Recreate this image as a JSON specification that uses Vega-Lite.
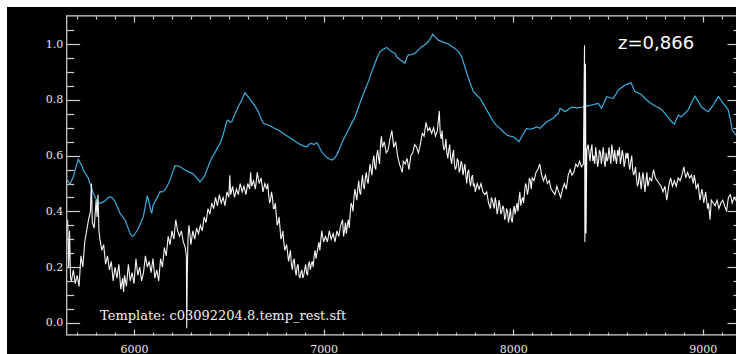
{
  "$schema": "https://vega.github.io/schema/vega-lite/v6.json",
  "width": 729,
  "height": 347,
  "autosize": {"type": "none"},
  "padding": {"left": 7, "top": 7, "right": 0, "bottom": 0},
  "background": "white",
  "config": {
    "view": {"fill": "black", "stroke": null},
    "axis": {"grid": false, "domain": false, "tickColor": "#cfcfcf", "tickWidth": 1.2, "labelColor": "#e6e6e6", "labelFont": "DejaVu Serif", "labelFontSize": 11, "labelOverlap": false, "labelFlush": false, "labelBound": false}
  },
  "datasets": {
    "template": [
      {"x":5648,"y":0.513},{"x":5655,"y":0.505},{"x":5662,"y":0.498},{"x":5670,"y":0.510},{"x":5680,"y":0.524},{"x":5692,"y":0.555},{"x":5706,"y":0.587},{"x":5715,"y":0.575},{"x":5724,"y":0.566},{"x":5733,"y":0.548},{"x":5742,"y":0.537},{"x":5750,"y":0.530},{"x":5759,"y":0.519},{"x":5768,"y":0.500},{"x":5777,"y":0.483},{"x":5785,"y":0.465},{"x":5794,"y":0.452},{"x":5803,"y":0.441},{"x":5812,"y":0.432},{"x":5821,"y":0.429},{"x":5834,"y":0.433},{"x":5847,"y":0.437},{"x":5860,"y":0.447},{"x":5873,"y":0.453},{"x":5887,"y":0.447},{"x":5900,"y":0.435},{"x":5913,"y":0.415},{"x":5926,"y":0.393},{"x":5940,"y":0.380},{"x":5953,"y":0.369},{"x":5966,"y":0.345},{"x":5979,"y":0.321},{"x":5988,"y":0.312},{"x":5996,"y":0.311},{"x":6010,"y":0.325},{"x":6023,"y":0.339},{"x":6036,"y":0.360},{"x":6049,"y":0.381},{"x":6060,"y":0.420},{"x":6070,"y":0.456},{"x":6080,"y":0.430},{"x":6087,"y":0.405},{"x":6093,"y":0.393},{"x":6100,"y":0.420},{"x":6111,"y":0.435},{"x":6124,"y":0.452},{"x":6137,"y":0.471},{"x":6150,"y":0.470},{"x":6163,"y":0.477},{"x":6176,"y":0.492},{"x":6190,"y":0.513},{"x":6203,"y":0.540},{"x":6216,"y":0.564},{"x":6230,"y":0.563},{"x":6243,"y":0.560},{"x":6260,"y":0.552},{"x":6278,"y":0.545},{"x":6295,"y":0.540},{"x":6313,"y":0.534},{"x":6330,"y":0.520},{"x":6348,"y":0.506},{"x":6360,"y":0.515},{"x":6374,"y":0.530},{"x":6388,"y":0.555},{"x":6401,"y":0.578},{"x":6414,"y":0.597},{"x":6427,"y":0.611},{"x":6440,"y":0.628},{"x":6454,"y":0.644},{"x":6467,"y":0.668},{"x":6480,"y":0.700},{"x":6490,"y":0.725},{"x":6497,"y":0.728},{"x":6505,"y":0.720},{"x":6515,"y":0.722},{"x":6530,"y":0.745},{"x":6550,"y":0.776},{"x":6568,"y":0.800},{"x":6585,"y":0.826},{"x":6603,"y":0.810},{"x":6621,"y":0.794},{"x":6638,"y":0.778},{"x":6656,"y":0.758},{"x":6668,"y":0.735},{"x":6682,"y":0.716},{"x":6695,"y":0.713},{"x":6708,"y":0.710},{"x":6735,"y":0.700},{"x":6761,"y":0.692},{"x":6787,"y":0.680},{"x":6814,"y":0.668},{"x":6840,"y":0.656},{"x":6867,"y":0.644},{"x":6889,"y":0.636},{"x":6911,"y":0.632},{"x":6925,"y":0.642},{"x":6937,"y":0.644},{"x":6950,"y":0.640},{"x":6964,"y":0.647},{"x":6977,"y":0.630},{"x":6990,"y":0.614},{"x":7003,"y":0.603},{"x":7016,"y":0.594},{"x":7030,"y":0.588},{"x":7043,"y":0.584},{"x":7056,"y":0.590},{"x":7069,"y":0.602},{"x":7082,"y":0.622},{"x":7095,"y":0.644},{"x":7112,"y":0.668},{"x":7130,"y":0.692},{"x":7148,"y":0.716},{"x":7166,"y":0.740},{"x":7183,"y":0.772},{"x":7201,"y":0.806},{"x":7218,"y":0.836},{"x":7236,"y":0.866},{"x":7253,"y":0.900},{"x":7271,"y":0.932},{"x":7284,"y":0.955},{"x":7297,"y":0.973},{"x":7315,"y":0.982},{"x":7333,"y":0.989},{"x":7346,"y":0.981},{"x":7359,"y":0.973},{"x":7377,"y":0.968},{"x":7385,"y":0.955},{"x":7407,"y":0.943},{"x":7429,"y":0.932},{"x":7438,"y":0.950},{"x":7447,"y":0.962},{"x":7465,"y":0.963},{"x":7482,"y":0.968},{"x":7500,"y":0.980},{"x":7517,"y":0.991},{"x":7530,"y":0.997},{"x":7544,"y":1.004},{"x":7560,"y":1.018},{"x":7575,"y":1.036},{"x":7590,"y":1.025},{"x":7605,"y":1.015},{"x":7630,"y":1.008},{"x":7658,"y":1.001},{"x":7680,"y":0.990},{"x":7702,"y":0.980},{"x":7715,"y":0.970},{"x":7728,"y":0.955},{"x":7742,"y":0.925},{"x":7755,"y":0.896},{"x":7772,"y":0.862},{"x":7790,"y":0.830},{"x":7807,"y":0.818},{"x":7825,"y":0.806},{"x":7843,"y":0.785},{"x":7860,"y":0.764},{"x":7878,"y":0.743},{"x":7895,"y":0.722},{"x":7912,"y":0.708},{"x":7930,"y":0.698},{"x":7948,"y":0.686},{"x":7966,"y":0.674},{"x":7983,"y":0.670},{"x":8000,"y":0.668},{"x":8015,"y":0.660},{"x":8030,"y":0.650},{"x":8050,"y":0.675},{"x":8071,"y":0.698},{"x":8088,"y":0.695},{"x":8106,"y":0.698},{"x":8124,"y":0.703},{"x":8141,"y":0.698},{"x":8159,"y":0.710},{"x":8177,"y":0.722},{"x":8194,"y":0.728},{"x":8211,"y":0.734},{"x":8225,"y":0.745},{"x":8238,"y":0.752},{"x":8247,"y":0.770},{"x":8260,"y":0.765},{"x":8273,"y":0.758},{"x":8290,"y":0.766},{"x":8308,"y":0.774},{"x":8335,"y":0.772},{"x":8361,"y":0.774},{"x":8388,"y":0.778},{"x":8414,"y":0.782},{"x":8432,"y":0.785},{"x":8449,"y":0.788},{"x":8466,"y":0.770},{"x":8480,"y":0.792},{"x":8493,"y":0.812},{"x":8510,"y":0.808},{"x":8528,"y":0.806},{"x":8541,"y":0.820},{"x":8554,"y":0.836},{"x":8572,"y":0.845},{"x":8590,"y":0.854},{"x":8605,"y":0.858},{"x":8621,"y":0.862},{"x":8632,"y":0.845},{"x":8642,"y":0.830},{"x":8660,"y":0.825},{"x":8678,"y":0.818},{"x":8691,"y":0.808},{"x":8704,"y":0.800},{"x":8722,"y":0.790},{"x":8739,"y":0.782},{"x":8756,"y":0.776},{"x":8774,"y":0.770},{"x":8787,"y":0.762},{"x":8800,"y":0.752},{"x":8814,"y":0.740},{"x":8827,"y":0.728},{"x":8839,"y":0.720},{"x":8850,"y":0.714},{"x":8860,"y":0.730},{"x":8871,"y":0.746},{"x":8884,"y":0.740},{"x":8897,"y":0.746},{"x":8910,"y":0.755},{"x":8923,"y":0.764},{"x":8940,"y":0.790},{"x":8959,"y":0.814},{"x":8976,"y":0.795},{"x":8994,"y":0.774},{"x":9011,"y":0.765},{"x":9029,"y":0.758},{"x":9042,"y":0.770},{"x":9055,"y":0.782},{"x":9068,"y":0.797},{"x":9082,"y":0.812},{"x":9095,"y":0.800},{"x":9108,"y":0.788},{"x":9121,"y":0.776},{"x":9134,"y":0.764},{"x":9145,"y":0.730},{"x":9155,"y":0.692},{"x":9175,"y":0.674}
    ],
    "spectrum": [
      {"x":5650,"y":0.37},{"x":5655,"y":0.20},{"x":5660,"y":0.33},{"x":5665,"y":0.16},{"x":5670,"y":0.15},{"x":5680,"y":0.19},{"x":5690,"y":0.14},{"x":5700,"y":0.17},{"x":5710,"y":0.13},{"x":5720,"y":0.24},{"x":5730,"y":0.20},{"x":5740,"y":0.29},{"x":5750,"y":0.33},{"x":5760,"y":0.37},{"x":5770,"y":0.40},{"x":5775,"y":0.50},{"x":5780,"y":0.36},{"x":5790,"y":0.34},{"x":5800,"y":0.44},{"x":5805,"y":0.38},{"x":5810,"y":0.46},{"x":5815,"y":0.33},{"x":5820,"y":0.30},{"x":5830,"y":0.26},{"x":5840,"y":0.28},{"x":5850,"y":0.21},{"x":5860,"y":0.24},{"x":5870,"y":0.19},{"x":5880,"y":0.22},{"x":5890,"y":0.15},{"x":5900,"y":0.20},{"x":5910,"y":0.16},{"x":5920,"y":0.21},{"x":5930,"y":0.12},{"x":5940,"y":0.16},{"x":5945,"y":0.11},{"x":5950,"y":0.17},{"x":5960,"y":0.13},{"x":5970,"y":0.21},{"x":5980,"y":0.15},{"x":5990,"y":0.18},{"x":6000,"y":0.14},{"x":6010,"y":0.23},{"x":6020,"y":0.17},{"x":6030,"y":0.20},{"x":6040,"y":0.15},{"x":6050,"y":0.18},{"x":6060,"y":0.24},{"x":6070,"y":0.20},{"x":6080,"y":0.22},{"x":6090,"y":0.18},{"x":6100,"y":0.23},{"x":6110,"y":0.16},{"x":6120,"y":0.19},{"x":6130,"y":0.15},{"x":6140,"y":0.23},{"x":6150,"y":0.20},{"x":6160,"y":0.27},{"x":6170,"y":0.24},{"x":6180,"y":0.31},{"x":6190,"y":0.28},{"x":6200,"y":0.33},{"x":6210,"y":0.30},{"x":6220,"y":0.37},{"x":6230,"y":0.33},{"x":6240,"y":0.31},{"x":6250,"y":0.33},{"x":6260,"y":0.29},{"x":6270,"y":0.27},{"x":6276,"y":0.24},{"x":6278,"y":-0.02},{"x":6281,"y":0.18},{"x":6285,"y":0.31},{"x":6290,"y":0.35},{"x":6300,"y":0.28},{"x":6310,"y":0.33},{"x":6320,"y":0.30},{"x":6330,"y":0.34},{"x":6340,"y":0.32},{"x":6350,"y":0.35},{"x":6360,"y":0.33},{"x":6370,"y":0.38},{"x":6380,"y":0.36},{"x":6390,"y":0.41},{"x":6400,"y":0.39},{"x":6410,"y":0.43},{"x":6420,"y":0.41},{"x":6430,"y":0.45},{"x":6440,"y":0.42},{"x":6450,"y":0.46},{"x":6460,"y":0.43},{"x":6470,"y":0.45},{"x":6480,"y":0.42},{"x":6490,"y":0.47},{"x":6500,"y":0.45},{"x":6505,"y":0.53},{"x":6510,"y":0.46},{"x":6520,"y":0.49},{"x":6530,"y":0.45},{"x":6540,"y":0.48},{"x":6550,"y":0.46},{"x":6560,"y":0.50},{"x":6570,"y":0.47},{"x":6580,"y":0.49},{"x":6590,"y":0.46},{"x":6600,"y":0.50},{"x":6610,"y":0.48},{"x":6615,"y":0.54},{"x":6620,"y":0.49},{"x":6630,"y":0.51},{"x":6640,"y":0.48},{"x":6650,"y":0.54},{"x":6660,"y":0.50},{"x":6670,"y":0.52},{"x":6680,"y":0.47},{"x":6690,"y":0.50},{"x":6700,"y":0.48},{"x":6710,"y":0.46},{"x":6720,"y":0.44},{"x":6730,"y":0.45},{"x":6740,"y":0.41},{"x":6750,"y":0.39},{"x":6760,"y":0.36},{"x":6770,"y":0.34},{"x":6780,"y":0.31},{"x":6790,"y":0.29},{"x":6800,"y":0.27},{"x":6810,"y":0.25},{"x":6820,"y":0.24},{"x":6830,"y":0.21},{"x":6840,"y":0.22},{"x":6850,"y":0.19},{"x":6860,"y":0.20},{"x":6870,"y":0.17},{"x":6880,"y":0.18},{"x":6890,"y":0.16},{"x":6900,"y":0.19},{"x":6910,"y":0.18},{"x":6920,"y":0.21},{"x":6930,"y":0.19},{"x":6940,"y":0.22},{"x":6950,"y":0.24},{"x":6960,"y":0.23},{"x":6970,"y":0.27},{"x":6980,"y":0.26},{"x":6990,"y":0.33},{"x":7000,"y":0.29},{"x":7010,"y":0.31},{"x":7020,"y":0.29},{"x":7030,"y":0.33},{"x":7040,"y":0.30},{"x":7050,"y":0.32},{"x":7060,"y":0.29},{"x":7070,"y":0.33},{"x":7080,"y":0.31},{"x":7090,"y":0.35},{"x":7100,"y":0.37},{"x":7110,"y":0.33},{"x":7120,"y":0.32},{"x":7130,"y":0.37},{"x":7140,"y":0.39},{"x":7150,"y":0.42},{"x":7160,"y":0.45},{"x":7170,"y":0.46},{"x":7180,"y":0.48},{"x":7190,"y":0.47},{"x":7200,"y":0.50},{"x":7210,"y":0.49},{"x":7220,"y":0.52},{"x":7230,"y":0.51},{"x":7240,"y":0.54},{"x":7250,"y":0.55},{"x":7260,"y":0.58},{"x":7270,"y":0.56},{"x":7280,"y":0.60},{"x":7290,"y":0.59},{"x":7300,"y":0.64},{"x":7305,"y":0.67},{"x":7310,"y":0.63},{"x":7320,"y":0.65},{"x":7330,"y":0.61},{"x":7340,"y":0.62},{"x":7350,"y":0.66},{"x":7360,"y":0.69},{"x":7370,"y":0.63},{"x":7380,"y":0.65},{"x":7390,"y":0.60},{"x":7400,"y":0.57},{"x":7410,"y":0.55},{"x":7415,"y":0.54},{"x":7420,"y":0.58},{"x":7430,"y":0.57},{"x":7440,"y":0.59},{"x":7450,"y":0.55},{"x":7460,"y":0.60},{"x":7470,"y":0.61},{"x":7480,"y":0.64},{"x":7490,"y":0.63},{"x":7500,"y":0.61},{"x":7510,"y":0.64},{"x":7520,"y":0.68},{"x":7530,"y":0.67},{"x":7540,"y":0.72},{"x":7550,"y":0.69},{"x":7560,"y":0.70},{"x":7570,"y":0.68},{"x":7580,"y":0.70},{"x":7590,"y":0.67},{"x":7600,"y":0.69},{"x":7610,"y":0.76},{"x":7615,"y":0.68},{"x":7620,"y":0.66},{"x":7630,"y":0.64},{"x":7640,"y":0.63},{"x":7650,"y":0.61},{"x":7660,"y":0.62},{"x":7670,"y":0.59},{"x":7680,"y":0.60},{"x":7690,"y":0.57},{"x":7700,"y":0.56},{"x":7710,"y":0.58},{"x":7720,"y":0.55},{"x":7730,"y":0.57},{"x":7740,"y":0.55},{"x":7750,"y":0.53},{"x":7760,"y":0.54},{"x":7770,"y":0.51},{"x":7780,"y":0.52},{"x":7790,"y":0.49},{"x":7800,"y":0.47},{"x":7810,"y":0.50},{"x":7820,"y":0.48},{"x":7830,"y":0.50},{"x":7840,"y":0.47},{"x":7850,"y":0.46},{"x":7860,"y":0.47},{"x":7870,"y":0.43},{"x":7880,"y":0.41},{"x":7885,"y":0.45},{"x":7890,"y":0.44},{"x":7900,"y":0.41},{"x":7910,"y":0.43},{"x":7920,"y":0.41},{"x":7930,"y":0.42},{"x":7940,"y":0.40},{"x":7950,"y":0.41},{"x":7960,"y":0.38},{"x":7970,"y":0.40},{"x":7980,"y":0.38},{"x":7990,"y":0.37},{"x":8000,"y":0.40},{"x":8010,"y":0.39},{"x":8020,"y":0.43},{"x":8030,"y":0.44},{"x":8040,"y":0.42},{"x":8050,"y":0.45},{"x":8060,"y":0.47},{"x":8070,"y":0.49},{"x":8080,"y":0.48},{"x":8090,"y":0.51},{"x":8100,"y":0.52},{"x":8110,"y":0.51},{"x":8120,"y":0.54},{"x":8130,"y":0.55},{"x":8140,"y":0.57},{"x":8150,"y":0.53},{"x":8160,"y":0.51},{"x":8170,"y":0.53},{"x":8180,"y":0.50},{"x":8190,"y":0.51},{"x":8200,"y":0.48},{"x":8210,"y":0.47},{"x":8220,"y":0.46},{"x":8230,"y":0.49},{"x":8240,"y":0.47},{"x":8250,"y":0.45},{"x":8260,"y":0.48},{"x":8270,"y":0.50},{"x":8280,"y":0.48},{"x":8290,"y":0.53},{"x":8300,"y":0.55},{"x":8310,"y":0.53},{"x":8320,"y":0.54},{"x":8330,"y":0.57},{"x":8340,"y":0.56},{"x":8350,"y":0.58},{"x":8360,"y":0.56},{"x":8370,"y":0.57},{"x":8376,"y":0.997},{"x":8378,"y":0.29},{"x":8381,"y":0.93},{"x":8384,"y":0.32},{"x":8388,"y":0.62},{"x":8395,"y":0.64},{"x":8400,"y":0.61},{"x":8410,"y":0.62},{"x":8420,"y":0.58},{"x":8430,"y":0.57},{"x":8440,"y":0.60},{"x":8450,"y":0.58},{"x":8460,"y":0.61},{"x":8470,"y":0.60},{"x":8480,"y":0.58},{"x":8490,"y":0.61},{"x":8500,"y":0.59},{"x":8510,"y":0.60},{"x":8520,"y":0.64},{"x":8530,"y":0.58},{"x":8540,"y":0.59},{"x":8550,"y":0.62},{"x":8560,"y":0.63},{"x":8570,"y":0.59},{"x":8580,"y":0.60},{"x":8590,"y":0.58},{"x":8600,"y":0.59},{"x":8610,"y":0.57},{"x":8620,"y":0.58},{"x":8630,"y":0.55},{"x":8640,"y":0.54},{"x":8650,"y":0.52},{"x":8660,"y":0.50},{"x":8670,"y":0.51},{"x":8680,"y":0.52},{"x":8690,"y":0.50},{"x":8700,"y":0.51},{"x":8710,"y":0.49},{"x":8720,"y":0.52},{"x":8730,"y":0.51},{"x":8740,"y":0.55},{"x":8750,"y":0.52},{"x":8760,"y":0.51},{"x":8770,"y":0.50},{"x":8780,"y":0.49},{"x":8790,"y":0.47},{"x":8800,"y":0.49},{"x":8810,"y":0.44},{"x":8820,"y":0.49},{"x":8830,"y":0.52},{"x":8840,"y":0.49},{"x":8850,"y":0.51},{"x":8860,"y":0.49},{"x":8870,"y":0.52},{"x":8880,"y":0.51},{"x":8890,"y":0.53},{"x":8900,"y":0.56},{"x":8910,"y":0.52},{"x":8920,"y":0.54},{"x":8930,"y":0.52},{"x":8940,"y":0.53},{"x":8950,"y":0.50},{"x":8960,"y":0.51},{"x":8970,"y":0.49},{"x":8980,"y":0.47},{"x":8990,"y":0.46},{"x":9000,"y":0.46},{"x":9010,"y":0.45},{"x":9020,"y":0.44},{"x":9030,"y":0.43},{"x":9038,"y":0.37},{"x":9045,"y":0.44},{"x":9055,"y":0.43},{"x":9065,"y":0.42},{"x":9075,"y":0.44},{"x":9085,"y":0.41},{"x":9095,"y":0.43},{"x":9105,"y":0.44},{"x":9115,"y":0.42},{"x":9125,"y":0.40},{"x":9135,"y":0.45},{"x":9145,"y":0.46},{"x":9155,"y":0.43},{"x":9165,"y":0.45},{"x":9175,"y":0.44},{"x":9185,"y":0.45},
      {"x":6705,"y":0.50},{"x":6715,"y":0.43},{"x":6725,"y":0.47},{"x":6735,"y":0.41},{"x":6745,"y":0.43},{"x":6755,"y":0.35},{"x":6765,"y":0.38},{"x":6775,"y":0.30},{"x":6785,"y":0.33},{"x":6795,"y":0.26},{"x":6805,"y":0.28},{"x":6815,"y":0.22},{"x":6825,"y":0.26},{"x":6835,"y":0.19},{"x":6845,"y":0.23},{"x":6855,"y":0.17},{"x":6865,"y":0.21},{"x":6875,"y":0.16},{"x":6885,"y":0.19},{"x":6895,"y":0.17},{"x":6905,"y":0.21},{"x":6915,"y":0.17},{"x":6925,"y":0.22},{"x":6935,"y":0.21},{"x":6945,"y":0.20},{"x":6955,"y":0.26},{"x":6965,"y":0.25},{"x":6975,"y":0.29},
      {"x":7105,"y":0.31},{"x":7115,"y":0.36},{"x":7125,"y":0.35},{"x":7135,"y":0.34},{"x":7145,"y":0.43},{"x":7155,"y":0.40},{"x":7165,"y":0.48},{"x":7175,"y":0.44},{"x":7185,"y":0.51},{"x":7195,"y":0.46},{"x":7205,"y":0.53},{"x":7215,"y":0.48},{"x":7225,"y":0.54},{"x":7235,"y":0.50},{"x":7245,"y":0.57},{"x":7255,"y":0.53},{"x":7265,"y":0.60},{"x":7275,"y":0.55},{"x":7285,"y":0.62},{"x":7295,"y":0.57},
      {"x":7625,"y":0.69},{"x":7635,"y":0.62},{"x":7645,"y":0.66},{"x":7655,"y":0.59},{"x":7665,"y":0.64},{"x":7675,"y":0.57},{"x":7685,"y":0.62},{"x":7695,"y":0.55},{"x":7705,"y":0.59},{"x":7715,"y":0.54},{"x":7725,"y":0.58},{"x":7735,"y":0.53},{"x":7745,"y":0.57},{"x":7755,"y":0.50},{"x":7765,"y":0.55},{"x":7775,"y":0.49},{"x":7785,"y":0.53},{"x":7795,"y":0.50},
      {"x":7905,"y":0.45},{"x":7915,"y":0.39},{"x":7925,"y":0.44},{"x":7935,"y":0.39},{"x":7945,"y":0.42},{"x":7955,"y":0.37},{"x":7965,"y":0.41},{"x":7975,"y":0.36},{"x":7985,"y":0.41},{"x":7995,"y":0.36},{"x":8005,"y":0.42},{"x":8015,"y":0.41},{"x":8025,"y":0.40},{"x":8035,"y":0.47},{"x":8045,"y":0.44},{"x":8055,"y":0.43},{"x":8065,"y":0.50},{"x":8075,"y":0.46},{"x":8085,"y":0.52},{"x":8095,"y":0.48},
      {"x":8405,"y":0.58},{"x":8415,"y":0.64},{"x":8425,"y":0.60},{"x":8435,"y":0.63},{"x":8445,"y":0.56},{"x":8455,"y":0.62},{"x":8465,"y":0.57},{"x":8475,"y":0.63},{"x":8485,"y":0.56},{"x":8495,"y":0.58},{"x":8505,"y":0.63},{"x":8515,"y":0.57},{"x":8525,"y":0.61},{"x":8535,"y":0.62},{"x":8545,"y":0.57},{"x":8555,"y":0.60},{"x":8565,"y":0.57},{"x":8575,"y":0.62},{"x":8585,"y":0.56},{"x":8595,"y":0.61},
      {"x":8605,"y":0.61},{"x":8615,"y":0.55},{"x":8625,"y":0.60},{"x":8635,"y":0.53},{"x":8645,"y":0.56},{"x":8655,"y":0.49},{"x":8665,"y":0.54},{"x":8675,"y":0.48},{"x":8685,"y":0.54},{"x":8695,"y":0.47},{"x":8705,"y":0.54},
      {"x":8955,"y":0.53},{"x":8965,"y":0.48},{"x":8975,"y":0.50},{"x":8985,"y":0.44},{"x":8995,"y":0.48},{"x":9005,"y":0.43},{"x":9015,"y":0.47},{"x":9025,"y":0.41}
    ]
  },
  "layer": [
    {
      "data": {"name": "template"},
      "mark": {"type": "line", "color": "#3aaee0", "strokeWidth": 1.2},
      "encoding": {
        "x": {"field": "x", "type": "quantitative", "scale": {"domain": [5330, 9175], "nice": false, "zero": false},
          "axis": {"orient": "bottom", "offset": -19, "title": null,
            "values": [5700,5800,5900,6000,6100,6200,6300,6400,6500,6600,6700,6800,6900,7000,7100,7200,7300,7400,7500,7600,7700,7800,7900,8000,8100,8200,8300,8400,8500,8600,8700,8800,8900,9000,9100],
            "format": "d",
            "tickSize": {"condition": {"test": "datum.value % 1000 === 0", "value": -6}, "value": -3},
            "labelExpr": "datum.value % 1000 === 0 ? datum.label : ''",
            "labelPadding": 14}},
        "y": {"field": "y", "type": "quantitative", "scale": {"domain": [-0.1124, 1.134], "nice": false, "zero": false},
          "axis": {"orient": "left", "offset": -59.7, "title": null,
            "values": [0,0.05,0.1,0.15,0.2,0.25,0.3,0.35,0.4,0.45,0.5,0.55,0.6,0.65,0.7,0.75,0.8,0.85,0.9,0.95,1.0,1.05],
            "format": ".1f",
            "tickSize": {"condition": {"test": "round(datum.value*100) % 20 === 0", "value": -13}, "value": -7},
            "labelExpr": "round(datum.value*100) % 20 === 0 ? datum.label : ''",
            "labelPadding": 17}}
      }
    },
    {
      "data": {"name": "spectrum"},
      "mark": {"type": "line", "color": "#f4f4f4", "strokeWidth": 1.1},
      "encoding": {
        "x": {"field": "x", "type": "quantitative", "scale": {"domain": [5330, 9175], "nice": false, "zero": false},
          "axis": {"orient": "top", "offset": -9, "title": null, "labels": false,
            "values": [5700,5800,5900,6000,6100,6200,6300,6400,6500,6600,6700,6800,6900,7000,7100,7200,7300,7400,7500,7600,7700,7800,7900,8000,8100,8200,8300,8400,8500,8600,8700,8800,8900,9000,9100],
            "tickSize": {"condition": {"test": "datum.value % 1000 === 0", "value": -6}, "value": -3}}},
        "y": {"field": "y", "type": "quantitative", "scale": {"domain": [-0.1124, 1.134], "nice": false, "zero": false},
          "axis": {"orient": "right", "offset": 4, "title": null, "labels": false,
            "values": [0,0.05,0.1,0.15,0.2,0.25,0.3,0.35,0.4,0.45,0.5,0.55,0.6,0.65,0.7,0.75,0.8,0.85,0.9,0.95,1.0,1.05],
            "tickSize": {"condition": {"test": "round(datum.value*100) % 20 === 0", "value": -13}, "value": -7}}}
      }
    },
    {
      "data": {"values": [{"frame": "plot"}]},
      "mark": {"type": "rect", "fill": "transparent", "stroke": "#d8d8d8", "strokeWidth": 1.2},
      "encoding": {
        "x": {"datum": 5645, "type": "quantitative", "scale": {"domain": [5330, 9175], "nice": false, "zero": false}, "axis": null},
        "x2": {"datum": 9200},
        "y": {"datum": -0.044, "type": "quantitative", "scale": {"domain": [-0.1124, 1.134], "nice": false, "zero": false}, "axis": null},
        "y2": {"datum": 1.102}
      }
    },
    {
      "data": {"values": [{"label": "z=0,866"}]},
      "mark": {"type": "text", "color": "white", "font": "DejaVu Sans", "fontSize": 18, "align": "left", "baseline": "alphabetic"},
      "encoding": {
        "x": {"datum": 8553, "type": "quantitative", "scale": {"domain": [5330, 9175], "nice": false, "zero": false}, "axis": null},
        "y": {"datum": 0.983, "type": "quantitative", "scale": {"domain": [-0.1124, 1.134], "nice": false, "zero": false}, "axis": null},
        "text": {"field": "label"}
      }
    },
    {
      "data": {"values": [{"label": "Template: c03092204.8.temp_rest.sft"}]},
      "mark": {"type": "text", "color": "#f0f0f0", "font": "DejaVu Serif", "fontSize": 13, "align": "left", "baseline": "alphabetic"},
      "encoding": {
        "x": {"datum": 5821, "type": "quantitative", "scale": {"domain": [5330, 9175], "nice": false, "zero": false}, "axis": null},
        "y": {"datum": 0.01, "type": "quantitative", "scale": {"domain": [-0.1124, 1.134], "nice": false, "zero": false}, "axis": null},
        "text": {"field": "label"}
      }
    }
  ],
  "resolve": {"axis": {"x": "independent", "y": "independent"}}
}
